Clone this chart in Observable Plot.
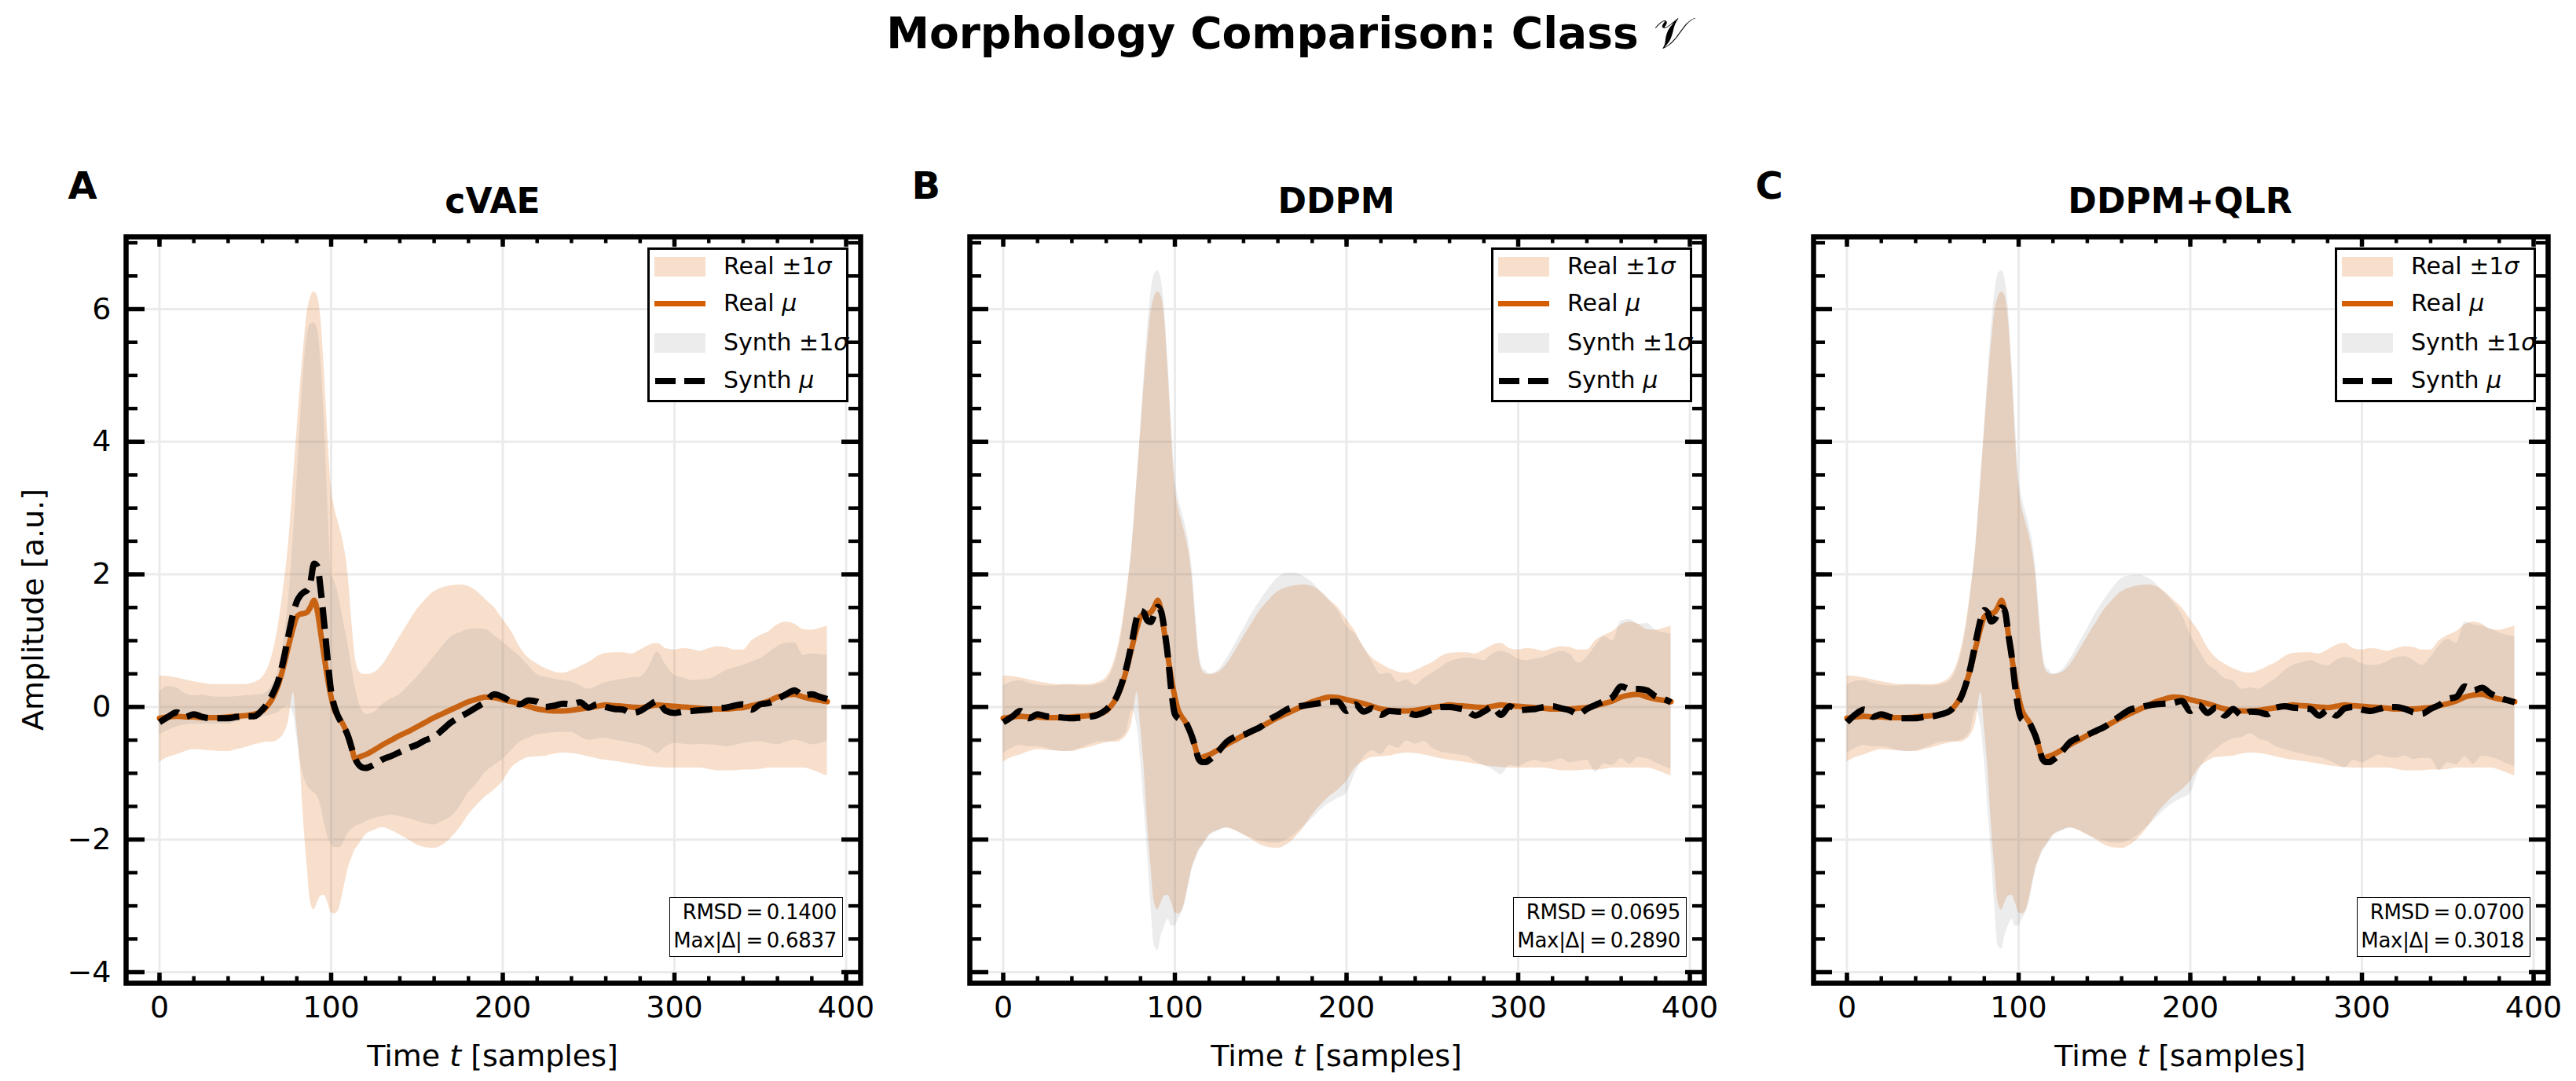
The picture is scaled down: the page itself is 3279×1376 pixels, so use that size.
<!DOCTYPE html>
<html>
<head>
<meta charset="utf-8">
<script src="https://cdn.jsdelivr.net/npm/d3@7"></script>
<script src="https://cdn.jsdelivr.net/npm/@observablehq/plot@0.6"></script>
<style>
  html, body { margin: 0; padding: 0; background: #fff; }
  #fig { position: relative; width: 3279px; height: 1376px; overflow: hidden; background: #fff;
         font-family: "DejaVu Sans", sans-serif; color: #000; }
  .abs { position: absolute; white-space: nowrap; }
  .title { left: 0; width: 3279px; text-align: center; font-size: 55px; font-weight: bold; line-height: 1; }
  .letter { font-size: 48px; font-weight: bold; line-height: 1; }
  .sub { text-align: center; font-size: 44px; font-weight: bold; line-height: 1; }
  .xlab { text-align: center; font-size: 38px; line-height: 1; }
  .ylab { text-align: center; font-size: 38px; line-height: 38px; height: 38px; width: 600px; transform: rotate(-90deg); transform-origin: 50% 50%; }
  .legend { box-sizing: border-box; width: 256px; height: 197px; border: 3.5px solid #000; background: #fff; }
  .legend .sw { position: absolute; }
  .legend .lt { position: absolute; left: 94px; font-size: 30px; line-height: 1; white-space: nowrap; }
  .ann { box-sizing: border-box; width: 221px; height: 76px; border: 1.5px solid #000; background: #fff;
         font-size: 26px; line-height: 36px; text-align: right; padding-right: 7px; letter-spacing: -0.3px; }
  .plotwrap { position: absolute; }
</style>
</head>
<body>
<div id="fig"></div>
<script>
// ---------------- data ----------------
const T = [
  0,5,10,15,20,25,30,35,40,45,
  50,55,60,63,66,69,72,75,78,80,
  82,84,86,88,90,92,94,96,98,100,
  102,104,106,108,110,112,114,116,118,120,
  125,130,135,140,145,150,155,160,165,170,
  175,180,185,190,195,200,205,210,215,220,
  225,230,235,240,245,250,255,260,265,270,
  275,280,285,290,295,300,305,310,315,320,
  325,330,335,340,345,350,355,360,365,370,
  375,380,385,389
];

const realMean = [
  -0.17,-0.15,-0.14,-0.15,-0.15,-0.16,-0.16,-0.16,-0.15,-0.14,
  -0.13,-0.11,-0.06,0.02,0.14,0.32,0.58,0.90,1.20,1.36,
  1.40,1.41,1.43,1.51,1.61,1.44,1.10,0.75,0.42,0.15,
  -0.05,-0.15,-0.22,-0.32,-0.45,-0.62,-0.79,-0.76,-0.74,-0.72,
  -0.65,-0.57,-0.50,-0.43,-0.37,-0.30,-0.23,-0.16,-0.10,-0.04,
  0.02,0.08,0.12,0.15,0.14,0.11,0.08,0.05,0.01,-0.03,
  -0.05,-0.06,-0.06,-0.05,-0.03,-0.01,0.01,0.03,0.02,0.01,
  0.00,-0.01,0.01,0.03,0.02,0.01,0.00,-0.01,-0.02,-0.03,
  -0.03,-0.03,-0.02,-0.01,0.02,0.05,0.09,0.15,0.18,0.19,
  0.15,0.12,0.10,0.08
];
const realUpper = [
  0.47,0.46,0.44,0.41,0.38,0.36,0.34,0.34,0.34,0.34,
  0.34,0.37,0.45,0.58,0.82,1.20,1.75,2.42,3.45,4.16,
  4.85,5.45,5.95,6.18,6.26,6.20,5.85,5.07,4.10,3.33,
  3.00,2.80,2.60,2.35,1.95,1.30,0.75,0.55,0.50,0.49,
  0.52,0.64,0.84,1.06,1.27,1.47,1.62,1.74,1.80,1.83,
  1.84,1.82,1.74,1.62,1.50,1.32,1.14,0.90,0.74,0.65,
  0.58,0.53,0.51,0.55,0.61,0.67,0.76,0.81,0.82,0.82,
  0.80,0.86,0.93,0.96,0.88,0.86,0.88,0.87,0.84,0.88,
  0.91,0.90,0.86,0.86,1.00,1.08,1.14,1.24,1.28,1.25,
  1.17,1.16,1.19,1.22
];
const realLower = [
  -0.83,-0.76,-0.72,-0.67,-0.64,-0.65,-0.66,-0.67,-0.67,-0.64,
  -0.61,-0.57,-0.54,-0.53,-0.53,-0.50,-0.42,-0.23,0.22,-0.30,
  -0.90,-1.75,-2.40,-2.95,-3.06,-2.95,-2.85,-2.84,-2.95,-3.10,
  -3.12,-3.08,-2.90,-2.65,-2.42,-2.28,-2.15,-2.08,-2.00,-1.93,
  -1.86,-1.82,-1.86,-1.93,-2.00,-2.08,-2.12,-2.13,-2.08,-1.97,
  -1.82,-1.63,-1.48,-1.35,-1.25,-1.12,-0.92,-0.82,-0.76,-0.75,
  -0.74,-0.71,-0.69,-0.70,-0.72,-0.75,-0.78,-0.80,-0.82,-0.84,
  -0.86,-0.88,-0.90,-0.91,-0.92,-0.92,-0.92,-0.92,-0.92,-0.94,
  -0.96,-0.96,-0.96,-0.95,-0.95,-0.94,-0.92,-0.92,-0.92,-0.92,
  -0.92,-0.95,-1.00,-1.04
];

// cVAE
const cvaeMean = [
  -0.23,-0.15,-0.08,-0.15,-0.11,-0.15,-0.17,-0.17,-0.17,-0.15,
  -0.14,-0.14,-0.04,0.06,0.20,0.38,0.68,1.06,1.42,1.59,
  1.68,1.73,1.76,1.89,2.16,2.12,1.75,1.25,0.70,0.23,
  0.00,-0.14,-0.24,-0.33,-0.45,-0.62,-0.78,-0.87,-0.91,-0.92,
  -0.87,-0.79,-0.74,-0.68,-0.62,-0.57,-0.50,-0.45,-0.34,-0.23,
  -0.15,-0.08,0.00,0.08,0.19,0.15,0.08,0.04,0.10,0.08,
  0.00,0.02,0.05,0.04,0.07,-0.01,0.04,0.00,-0.03,-0.04,
  -0.09,-0.06,0.02,0.09,-0.06,-0.09,-0.07,-0.06,-0.05,-0.04,
  -0.02,-0.01,0.02,0.04,-0.04,0.04,0.06,0.12,0.19,0.25,
  0.17,0.19,0.15,0.12
];
const cvaeUpper = [
  0.23,0.31,0.29,0.20,0.17,0.18,0.16,0.15,0.15,0.16,
  0.17,0.18,0.19,0.24,0.35,0.55,0.95,1.59,2.60,3.40,
  4.30,5.10,5.60,5.78,5.79,5.70,5.20,4.31,3.10,2.04,
  1.90,1.72,1.45,1.18,0.91,0.60,0.30,0.08,-0.05,-0.11,
  -0.08,0.04,0.12,0.19,0.32,0.45,0.60,0.76,0.92,1.06,
  1.12,1.17,1.18,1.17,1.08,0.98,0.87,0.76,0.62,0.49,
  0.45,0.42,0.40,0.38,0.32,0.27,0.32,0.37,0.40,0.42,
  0.44,0.45,0.60,0.83,0.63,0.48,0.44,0.40,0.41,0.42,
  0.48,0.55,0.59,0.63,0.68,0.73,0.82,0.91,0.96,0.97,
  0.78,0.80,0.79,0.78
];
const cvaeLower = [
  -0.42,-0.35,-0.30,-0.27,-0.26,-0.26,-0.26,-0.26,-0.26,-0.22,
  -0.19,-0.17,-0.15,-0.13,-0.11,-0.08,-0.02,0.02,-0.10,-0.45,
  -0.80,-1.05,-1.18,-1.25,-1.29,-1.35,-1.50,-1.75,-1.95,-2.07,
  -2.12,-2.12,-2.10,-2.00,-1.90,-1.85,-1.80,-1.78,-1.76,-1.73,
  -1.68,-1.65,-1.63,-1.65,-1.68,-1.72,-1.76,-1.78,-1.72,-1.65,
  -1.50,-1.29,-1.15,-0.98,-0.88,-0.79,-0.66,-0.53,-0.47,-0.42,
  -0.40,-0.39,-0.38,-0.38,-0.45,-0.50,-0.48,-0.47,-0.50,-0.52,
  -0.55,-0.57,-0.62,-0.70,-0.60,-0.55,-0.56,-0.57,-0.56,-0.57,
  -0.58,-0.60,-0.58,-0.55,-0.53,-0.52,-0.55,-0.57,-0.53,-0.50,
  -0.53,-0.57,-0.55,-0.52
];

// DDPM
const ddpmMean = [
  -0.23,-0.15,-0.06,-0.17,-0.11,-0.14,-0.15,-0.16,-0.17,-0.16,
  -0.15,-0.12,-0.04,0.04,0.15,0.35,0.62,0.98,1.36,1.45,
  1.42,1.30,1.28,1.40,1.51,1.44,1.15,0.75,0.23,-0.11,
  -0.17,-0.19,-0.22,-0.32,-0.45,-0.62,-0.79,-0.83,-0.83,-0.80,
  -0.68,-0.53,-0.45,-0.42,-0.36,-0.30,-0.19,-0.12,-0.04,0.00,
  0.02,0.04,0.06,0.08,0.08,-0.06,0.04,-0.07,-0.02,-0.12,
  -0.06,-0.07,-0.08,-0.12,-0.09,-0.04,0.00,0.00,-0.02,-0.05,
  -0.13,-0.07,0.00,-0.12,0.01,-0.05,-0.04,-0.03,0.00,0.01,
  -0.02,-0.05,-0.11,-0.03,0.03,0.09,0.15,0.31,0.27,0.27,
  0.25,0.16,0.12,0.07
];
const ddpmUpper = [
  0.32,0.38,0.40,0.36,0.33,0.32,0.32,0.33,0.33,0.32,
  0.32,0.34,0.40,0.52,0.75,1.12,1.70,2.45,3.50,4.20,
  5.00,5.70,6.25,6.52,6.58,6.45,6.00,5.20,4.30,3.50,
  3.15,2.95,2.75,2.50,2.10,1.45,0.85,0.60,0.55,0.50,
  0.55,0.72,0.95,1.18,1.42,1.62,1.80,1.95,2.02,2.02,
  1.97,1.88,1.74,1.60,1.45,1.22,1.10,0.90,0.68,0.49,
  0.51,0.37,0.41,0.33,0.43,0.51,0.60,0.68,0.72,0.74,
  0.73,0.70,0.80,0.84,0.80,0.72,0.70,0.72,0.75,0.80,
  0.84,0.80,0.66,0.75,0.92,1.06,1.00,1.30,1.32,1.25,
  1.26,1.16,1.12,1.10
];
const ddpmLower = [
  -0.70,-0.62,-0.58,-0.60,-0.60,-0.62,-0.66,-0.67,-0.66,-0.62,
  -0.57,-0.53,-0.52,-0.52,-0.50,-0.46,-0.35,-0.05,-0.30,-0.80,
  -1.50,-2.20,-3.00,-3.60,-3.67,-3.45,-3.30,-3.20,-3.30,-3.30,
  -3.20,-3.10,-2.95,-2.70,-2.45,-2.30,-2.18,-2.10,-2.02,-1.95,
  -1.87,-1.83,-1.86,-1.92,-1.98,-2.02,-2.05,-2.05,-2.00,-1.92,
  -1.80,-1.68,-1.55,-1.45,-1.38,-1.30,-1.00,-0.76,-0.66,-0.72,
  -0.58,-0.62,-0.51,-0.56,-0.52,-0.62,-0.68,-0.70,-0.72,-0.74,
  -0.82,-0.88,-0.94,-1.02,-0.88,-0.90,-0.84,-0.80,-0.84,-0.82,
  -0.78,-0.84,-0.82,-0.80,-0.98,-0.86,-0.88,-0.78,-0.86,-0.76,
  -0.78,-0.84,-0.90,-0.94
];

// DDPM+QLR
const qlrMean = [
  -0.23,-0.11,-0.04,-0.15,-0.11,-0.15,-0.17,-0.17,-0.17,-0.15,
  -0.14,-0.11,-0.06,0.02,0.12,0.32,0.60,0.98,1.33,1.46,
  1.42,1.29,1.32,1.42,1.50,1.45,1.10,0.76,0.30,-0.05,
  -0.19,-0.21,-0.23,-0.33,-0.45,-0.62,-0.79,-0.83,-0.83,-0.80,
  -0.68,-0.53,-0.46,-0.42,-0.36,-0.30,-0.21,-0.12,-0.04,-0.01,
  0.02,0.04,0.05,0.06,0.09,-0.06,0.03,-0.09,-0.01,-0.13,
  -0.03,-0.13,-0.07,-0.08,-0.11,-0.01,0.01,-0.01,-0.02,-0.03,
  -0.13,-0.05,-0.13,-0.02,0.00,-0.04,-0.06,-0.03,0.00,0.00,
  -0.03,-0.08,-0.10,-0.03,0.03,0.12,0.15,0.31,0.25,0.29,
  0.20,0.14,0.10,0.07
];
const qlrUpper = [
  0.33,0.39,0.40,0.36,0.33,0.32,0.32,0.33,0.33,0.32,
  0.32,0.34,0.40,0.52,0.75,1.12,1.70,2.45,3.50,4.20,
  5.00,5.70,6.25,6.52,6.58,6.45,6.00,5.20,4.30,3.50,
  3.15,2.95,2.75,2.50,2.10,1.45,0.85,0.60,0.55,0.50,
  0.55,0.72,0.95,1.18,1.42,1.62,1.80,1.94,1.98,1.99,
  1.95,1.86,1.72,1.58,1.40,1.10,0.86,0.65,0.55,0.43,
  0.39,0.27,0.29,0.27,0.35,0.43,0.55,0.63,0.67,0.70,
  0.65,0.62,0.70,0.75,0.72,0.65,0.63,0.64,0.69,0.75,
  0.76,0.70,0.63,0.75,0.92,1.02,0.96,1.28,1.24,1.22,
  1.18,1.12,1.08,1.06
];
const qlrLower = [
  -0.70,-0.62,-0.58,-0.60,-0.60,-0.62,-0.66,-0.67,-0.66,-0.62,
  -0.57,-0.53,-0.52,-0.52,-0.50,-0.46,-0.35,-0.05,-0.30,-0.80,
  -1.50,-2.20,-3.00,-3.60,-3.65,-3.45,-3.30,-3.20,-3.30,-3.30,
  -3.20,-3.10,-2.95,-2.70,-2.45,-2.30,-2.18,-2.10,-2.02,-1.95,
  -1.87,-1.83,-1.86,-1.92,-1.98,-2.02,-2.05,-2.05,-2.00,-1.92,
  -1.80,-1.68,-1.55,-1.45,-1.38,-1.30,-0.96,-0.76,-0.64,-0.54,
  -0.48,-0.46,-0.40,-0.48,-0.52,-0.60,-0.64,-0.68,-0.71,-0.74,
  -0.76,-0.80,-0.86,-0.92,-0.80,-0.84,-0.78,-0.72,-0.76,-0.77,
  -0.74,-0.79,-0.77,-0.78,-0.96,-0.84,-0.87,-0.75,-0.86,-0.74,
  -0.76,-0.80,-0.86,-0.90
];

const panelLetters = ["A", "B", "C"];
const panelNames = ["cVAE", "DDPM", "DDPM+QLR"];
const rmsdValues = ["0.1400", "0.0695", "0.0700"];
const maxDeltaValues = ["0.6837", "0.2890", "0.3018"];

const xMajor = [0, 100, 200, 300, 400];
const xMinor = [0,20,40,60,80,100,120,140,160,180,200,220,240,260,280,300,320,340,360,380,400];
const yMajor = [-4, -2, 0, 2, 4, 6];
const yMinor = [-4,-3.5,-3,-2.5,-2,-1.5,-1,-0.5,0,0.5,1,1.5,2,2.5,3,3.5,4,4.5,5,5.5,6,6.5,7];
const xDomain = [-19.45, 408.45];
const yDomain = [-4.166, 7.09];

// ---------------- layout ----------------
const fig = document.getElementById("fig");
const ORANGE = "#D55E00";
const frameLefts = [159.5, 1233.5, 2307.5];
const FW = 935, FH = 950, FTOP = 301;
const mL = 160, mR = 20, mT = 15, mB = 130;

const synthSets = [
  [cvaeMean, cvaeUpper, cvaeLower],
  [ddpmMean, ddpmUpper, ddpmLower],
  [qlrMean, qlrUpper, qlrLower]
];

for (const arr of [realMean, realUpper, realLower, ...synthSets.flat()]) {
  if (arr.length !== T.length) throw new Error("length mismatch " + arr.length);
}

function addDiv(cls, style, html) {
  const d = document.createElement("div");
  d.className = "abs " + cls;
  d.setAttribute("style", style);
  d.innerHTML = html;
  fig.appendChild(d);
  return d;
}

// title
addDiv("title", "top:15px;", "Morphology Comparison: Class <span style=\"font-weight:normal\">𝒱</span>");

synthSets.forEach(([sm, su, sl], i) => {
  const L = frameLefts[i], R = L + FW;
  const data = T.map((t, k) => ({
    t, rm: realMean[k], ru: realUpper[k], rl: realLower[k],
    sm: sm[k], su: su[k], sl: sl[k]
  }));
  const tick = (vals, len, sw, side) => {
    const o = {stroke: "#000", strokeWidth: sw};
    if (side === "left") return Plot.tickY(vals, {y: d => d, ...o, insetRight: FW - len});
    if (side === "right") return Plot.tickY(vals, {y: d => d, ...o, insetLeft: FW - len});
    if (side === "bottom") return Plot.tickX(vals, {x: d => d, ...o, insetTop: FH - len});
    return Plot.tickX(vals, {x: d => d, ...o, insetBottom: FH - len});
  };
  const chart = Plot.plot({
    width: mL + FW + mR,
    height: mT + FH + mB,
    marginLeft: mL, marginRight: mR, marginTop: mT, marginBottom: mB,
    style: {background: "transparent", fontFamily: "DejaVu Sans", fontSize: "38px", color: "#000", overflow: "visible"},
    x: {domain: xDomain, ticks: xMajor, tickSize: 0, tickPadding: 17, label: null, tickFormat: d => String(d)},
    y: {domain: yDomain, ticks: yMajor, tickSize: 0, tickPadding: 19, label: null,
        axis: i === 0 ? "left" : null,
        tickFormat: d => d < 0 ? "\u2212" + Math.abs(d) : String(d)},
    marks: [
      Plot.ruleX(xMajor, {x: d => d, stroke: "#ebebeb", strokeWidth: 3}),
      Plot.ruleY(yMajor, {y: d => d, stroke: "#ebebeb", strokeWidth: 3}),
      Plot.areaY(data, {x: "t", y1: "rl", y2: "ru", fill: ORANGE, fillOpacity: 0.2, curve: "monotone-x"}),
      Plot.line(data, {x: "t", y: "rm", stroke: ORANGE, strokeWidth: 7, curve: "monotone-x"}),
      Plot.areaY(data, {x: "t", y1: "sl", y2: "su", fill: "#808080", fillOpacity: 0.15, curve: "monotone-x"}),
      Plot.line(data, {x: "t", y: "sm", stroke: "#000", strokeWidth: 8, strokeDasharray: "28 12",
                       strokeLinecap: "butt", curve: "monotone-x"}),
      tick(yMinor, 15, 4.5, "left"), tick(yMajor, 24, 5.5, "left"),
      tick(yMinor, 15, 4.5, "right"), tick(yMajor, 24, 5.5, "right"),
      tick(xMinor, 8.5, 4.5, "bottom"), tick(xMajor, 13, 5.5, "bottom"),
      tick(xMinor, 8.5, 4.5, "top"), tick(xMajor, 13, 5.5, "top"),
      Plot.frame({stroke: "#000", strokeWidth: 6.5})
    ]
  });
  const wrap = document.createElement("div");
  wrap.className = "plotwrap";
  wrap.style.left = (L - mL) + "px";
  wrap.style.top = (FTOP - mT) + "px";
  wrap.appendChild(chart);
  fig.appendChild(wrap);

  // panel letter and subtitle
  addDiv("letter", `left:${L - 73}px;top:212px;`, panelLetters[i]);
  addDiv("sub", `left:${L}px;width:${FW}px;top:234px;`, panelNames[i]);
  // x label
  addDiv("xlab", `left:${L}px;width:${FW}px;top:1325px;`, "Time <i>t</i> [samples]");

  // legend
  const lg = addDiv("legend", `left:${R - 270.5}px;top:315px;`, "");
  const rows = [
    {c: 25, sw: `<div class="sw" style="left:6px;top:${25 - 3.5 - 12.5}px;width:65px;height:25px;background:rgba(213,94,0,0.2)"></div>`, txt: "Real ±1<i>σ</i>"},
    {c: 72, sw: `<div class="sw" style="left:6px;top:${72 - 3.5 - 3.5}px;width:65px;height:7px;background:${ORANGE}"></div>`, txt: "Real <i>μ</i>"},
    {c: 122, sw: `<div class="sw" style="left:6px;top:${122 - 3.5 - 12.5}px;width:65px;height:25px;background:rgba(128,128,128,0.15)"></div>`, txt: "Synth ±1<i>σ</i>"},
    {c: 170, sw: `<div class="sw" style="left:7px;top:${170 - 3.5 - 4}px;width:26px;height:8px;background:#000"></div><div class="sw" style="left:44px;top:${170 - 3.5 - 4}px;width:26px;height:8px;background:#000"></div>`, txt: "Synth <i>μ</i>"}
  ];
  lg.innerHTML = rows.map(r => r.sw + `<div class="lt" style="top:${r.c - 3.5 - 16}px">${r.txt}</div>`).join("");

  // annotation box
  addDiv("ann", `left:${R - 242.5}px;top:1142px;`,
    `RMSD\u2009=\u2009${rmsdValues[i]}<br>Max|Δ|\u2009=\u2009${maxDeltaValues[i]}`);
});

// y label (shared, panel A)
addDiv("ylab", "left:-258px;top:757px;", "Amplitude [a.u.]");
</script>
</body>
</html>
